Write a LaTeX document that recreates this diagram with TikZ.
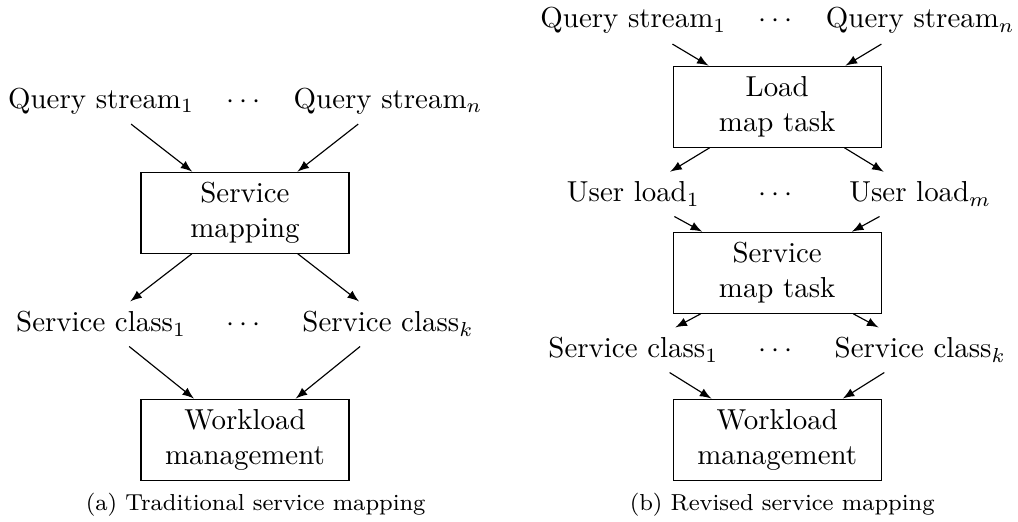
\documentclass[tikz,border=0pt]{standalone}
\begin{document}
\begin{tikzpicture}[box/.style={draw, align=center, minimum width=2.53cm, minimum height=0.985cm},
  lbl/.style={anchor=base}]

\useasboundingbox (0,0) rectangle (12.384,6.338);

% (a) traditional
\draw (1.23,5.024) node[lbl] (q1){Query stream$_1$};
\draw (2.96,5.024) node[lbl] (qd){$\cdots$};
\draw (4.72,5.024) node[lbl] (qn){Query stream$_n$};

\draw (2.98,3.75) node[box] (map){Service\\mapping};

\draw (1.23,2.30) node[lbl] (c1){Service class$_1$};
\draw (2.96,2.30) node[lbl] (cd){$\cdots$};
\draw (4.72,2.30) node[lbl] (ck){Service class$_k$};

\draw (2.98,0.99) node[box] (wl){Workload\\management};

\draw (3.11,0.122) node[lbl] (capa){\footnotesize (a) Traditional service mapping};

\draw[-latex] (q1) -- (map);
\draw[-latex] (qn) -- (map);
\draw[-latex] (map) -- (c1);
\draw[-latex] (map) -- (ck);
\draw[-latex] (c1) -- (wl);
\draw[-latex] (ck) -- (wl);

% (b) revised
\begin{scope}[xshift=6.475cm]

\draw (1.23,5.998) node[lbl] (rq1){Query stream$_1$};
\draw (2.96,5.998) node[lbl] (rqd){$\cdots$};
\draw (4.72,5.998) node[lbl] (rqn){Query stream$_n$};

\draw (2.98,5.04) node[box] (load){Load\\map task};

\draw (1.23,3.881) node[lbl] (u1){User load$_1$};
\draw (2.96,3.881) node[lbl] (ud){$\cdots$};
\draw (4.72,3.881) node[lbl] (um){User load$_m$};

\draw (2.98,3.02) node[box] (svc){Service\\map task};

\draw (1.23,1.983) node[lbl] (rc1){Service class$_1$};
\draw (2.96,1.983) node[lbl] (rcd){$\cdots$};
\draw (4.72,1.983) node[lbl] (rck){Service class$_k$};

\draw (2.98,0.99) node[box] (rwl){Workload\\management};

\draw (3.04,0.122) node[lbl] (capb){\footnotesize (b) Revised service mapping};

\end{scope}

\draw[-latex] (rq1) -- (load);
\draw[-latex] (rqn) -- (load);
\draw[-latex] (load) -- (u1);
\draw[-latex] (load) -- (um);
\draw[-latex] (u1) -- (svc);
\draw[-latex] (um) -- (svc);
\draw[-latex] (svc) -- (rc1);
\draw[-latex] (svc) -- (rck);
\draw[-latex] (rc1) -- (rwl);
\draw[-latex] (rck) -- (rwl);

\end{tikzpicture}
\end{document}
